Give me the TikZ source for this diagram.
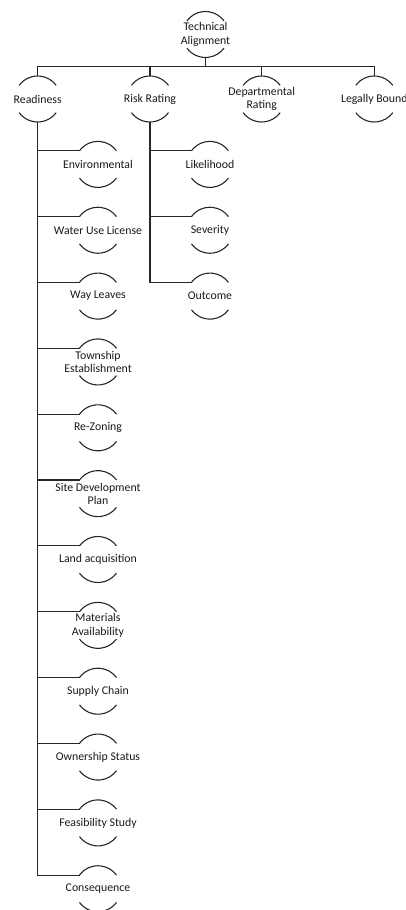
\documentclass[tikz,border=0pt]{standalone}
\usepackage{fontspec}
\setmainfont{Carlito}
\begin{document}
\begin{tikzpicture}[x=1pt,y=1pt,
  bubtext/.style={align=center, font=\fontsize{11.8}{13.3}\selectfont, text=black!90, inner sep=0pt},
  link/.style={draw=black!85, line width=1.1pt},
  rim/.style={draw=black!85, line width=1.1pt}]
\useasboundingbox (0,0) rectangle (406,-910);
\clip (0,0) rectangle (406,-910);

% root and first level
\node[bubtext] (ta) at (205.5,-34.5) {Technical\\Alignment};
\node[bubtext] (ready) at (37.7,-99) {Readiness};
\node[bubtext] (risk) at (150,-99) {Risk Rating};
\node[bubtext] (dept) at (261.7,-99) {Departmental\\Rating};
\node[bubtext] (legal) at (374.3,-99) {Legally Bound};

% readiness items, each with its entry point on the upper arc
\foreach \lbl [count=\i from 0] in {Environmental, Water Use License, Way Leaves,
    {Township\\Establishment}, Re-Zoning, {Site Development\\Plan}, Land acquisition,
    {Materials\\Availability}, Supply Chain, Ownership Status, Feasibility Study, Consequence} {
  \pgfmathsetmacro\yy{-(164.4+65.85*\i)}
  \node[bubtext] (r\i) at (98,\yy) {\lbl};
  \coordinate (r\i-in) at ([shift={(143.5:23pt)}]r\i.center);
}

% risk rating items
\foreach \lbl [count=\i from 0] in {Likelihood, Severity, Outcome} {
  \pgfmathsetmacro\yy{-(164.4+65.85*\i)}
  \node[bubtext] (k\i) at (210,\yy) {\lbl};
  \coordinate (k\i-in) at ([shift={(143.5:23pt)}]k\i.center);
}

% open circle outline: an arc above and an arc below each label
\foreach \nm in {ta,ready,risk,dept,legal,r0,r1,r2,r3,r4,r5,r6,r7,r8,r9,r10,r11,k0,k1,k2} {
  \draw[rim] ([shift={(143.5:23pt)}]\nm.center) arc[start angle=143.5,end angle=36.5,radius=23pt];
  \draw[rim] ([shift={(216.5:23pt)}]\nm.center) arc[start angle=216.5,end angle=323.5,radius=23pt];
}

% connectors
\coordinate (bus) at (0,-66.5);
\draw[link] ([yshift=-23pt]ta.center) -- (ta |- bus);
\draw[link] ([yshift=23pt]ready.center) -- (ready |- bus) -- (legal |- bus) -- ([yshift=23pt]legal.center);
\draw[link] (risk |- bus) -- ([yshift=23pt]risk.center);
\draw[link] (dept |- bus) -- ([yshift=23pt]dept.center);
\draw[link] ([yshift=-23pt]ready.center) |- (r11-in);
\foreach \i in {0,...,10}
  \draw[link] (ready |- r\i-in) -- (r\i-in);
\draw[link] ([yshift=-23pt]risk.center) |- (k2-in);
\foreach \i in {0,1}
  \draw[link] (risk |- k\i-in) -- (k\i-in);
\end{tikzpicture}
\end{document}
